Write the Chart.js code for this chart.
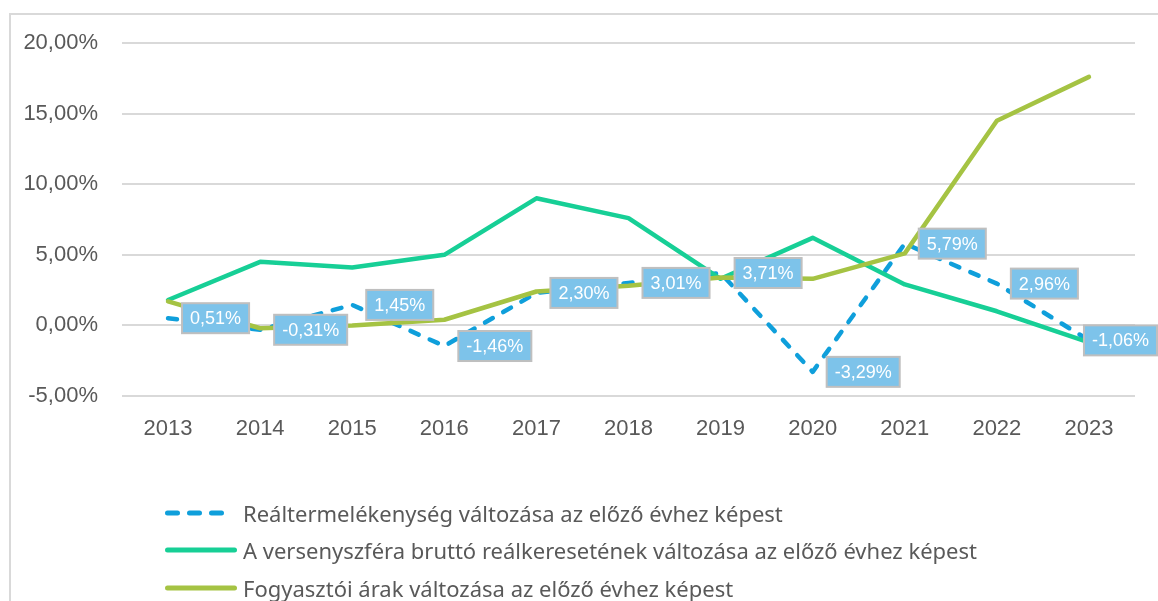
<!DOCTYPE html>
<html lang="hu">
<head>
<meta charset="utf-8">
<script src="https://cdn.jsdelivr.net/npm/chart.js@4.4.1/dist/chart.umd.min.js"></script>
<style>
  html, body { margin: 0; padding: 0; background: #fff; }
  #wrap { position: relative; width: 1158px; height: 601px; overflow: hidden; }
  #frame { position: absolute; left: 9px; top: 13px; width: 1200px; height: 700px; border: 2px solid #d9d9d9; box-sizing: border-box; }
  #chart { position: absolute; left: 0; top: 0; }
  #legend { position: absolute; left: 165px; top: 494px; font-family: "Noto Sans", sans-serif; font-size: 22px; color: #595959; }
  .item { height: 37.5px; display: flex; align-items: center; }
  .item svg { margin-right: 6px; }
</style>
</head>
<body>
<div id="wrap">
  <div id="frame"></div>
  <canvas id="chart" width="1158" height="601"></canvas>
  <div id="legend"></div>
</div>
<script>
// Évek (kategóriák)
const evek = ["2013", "2014", "2015", "2016", "2017", "2018", "2019", "2020", "2021", "2022", "2023"];

// Sorozatok (%)
const realtermelekenyseg = [0.51, -0.31, 1.45, -1.46, 2.30, 3.01, 3.71, -3.29, 5.79, 2.96, -1.06];
const versenyszferaKereset = [1.8, 4.5, 4.1, 5.0, 9.0, 7.6, 3.3, 6.2, 2.9, 1.0, -1.2];
const fogyasztoiArak = [1.7, -0.2, 0.0, 0.4, 2.4, 2.8, 3.4, 3.3, 5.1, 14.5, 17.6];

const nevek = [
  "Reáltermelékenység változása az előző évhez képest",
  "A versenyszféra bruttó reálkeresetének változása az előző évhez képest",
  "Fogyasztói árak változása az előző évhez képest"
];

// Formázás: 0,51%
function szazalek(v, tized) {
  return v.toFixed(tized).replace(".", ",") + "%";
}

// Adatcímkék a reáltermelékenység sorozathoz
const adatcimkek = {
  id: "adatcimkek",
  afterDatasetsDraw(chart) {
    const ctx = chart.ctx;
    const meta = chart.getDatasetMeta(0);
    ctx.save();
    ctx.font = "18px 'Liberation Sans', Arial, sans-serif";
    ctx.textBaseline = "middle";
    meta.data.forEach((pont, i) => {
      const szoveg = szazalek(realtermelekenyseg[i], 2);
      const w = ctx.measureText(szoveg).width + 16;
      const h = 30;
      let x = pont.x + 14;
      if (x + w > chart.width - 1) x = chart.width - 1 - w;
      const y = pont.y - h / 2;
      ctx.fillStyle = "#7dc3ea";
      ctx.fillRect(x, y, w, h);
      ctx.strokeStyle = "#bfbfbf";
      ctx.lineWidth = 2;
      ctx.strokeRect(x, y, w, h);
      ctx.fillStyle = "#ffffff";
      ctx.fillText(szoveg, x + 8, pont.y + 1);
    });
    ctx.restore();
  }
};

const ctx = document.getElementById("chart").getContext("2d");
const grafikon = new Chart(ctx, {
  type: "line",
  data: {
    labels: evek,
    datasets: [
      {
        label: nevek[0],
        data: realtermelekenyseg,
        borderColor: "#0f9fdb",
        borderWidth: 4.5,
        borderDash: [9, 12],
        borderCapStyle: "round",
        borderJoinStyle: "round",
        pointRadius: 0,
        tension: 0,
        order: 3,
      },
      {
        label: nevek[1],
        data: versenyszferaKereset,
        borderColor: "#17cf96",
        borderWidth: 4.5,
        borderCapStyle: "round",
        borderJoinStyle: "round",
        pointRadius: 0,
        tension: 0,
        order: 2,
      },
      {
        label: nevek[2],
        data: fogyasztoiArak,
        borderColor: "#a5c343",
        borderWidth: 4.5,
        borderCapStyle: "round",
        borderJoinStyle: "round",
        pointRadius: 0,
        tension: 0,
        order: 1,
      },
    ],
  },
  options: {
    responsive: false,
    animation: false,
    layout: { padding: { top: 43, right: 23, bottom: 0, left: 0 } },
    plugins: {
      legend: { display: false },
      tooltip: { enabled: false },
    },
    scales: {
      x: {
        offset: true,
        afterFit: (s) => { s.height = 205; },
        grid: { display: false, drawTicks: false },
        border: { display: false },
        ticks: {
          padding: 20,
          color: "#595959",
          font: { family: "'Liberation Sans', Arial, sans-serif", size: 22 },
        },
      },
      y: {
        min: -5,
        max: 20,
        afterFit: (s) => { s.width = 122; },
        grid: { color: "#d9d9d9", lineWidth: 2, drawTicks: false },
        border: { display: false },
        ticks: {
          stepSize: 5,
          padding: 24,
          color: "#595959",
          font: { family: "'Liberation Sans', Arial, sans-serif", size: 22 },
          callback: (v) => szazalek(v, 2),
        },
      },
    },
  },
  plugins: [adatcimkek],
});

// Jelmagyarázat
const jelmagyarazat = document.getElementById("legend");
grafikon.data.datasets.forEach((ds) => {
  const sor = document.createElement("div");
  sor.className = "item";
  const dash = ds.borderDash ? 'stroke-dasharray="10 12"' : "";
  sor.innerHTML =
    '<svg width="72" height="10"><line x1="2.5" y1="5" x2="' + (ds.borderDash ? 64 : 69.5) +
    '" y2="5" stroke="' + ds.borderColor + '" stroke-width="5" stroke-linecap="round" ' + dash + '/></svg>' +
    "<span>" + ds.label + "</span>";
  jelmagyarazat.appendChild(sor);
});
</script>
</body>
</html>
